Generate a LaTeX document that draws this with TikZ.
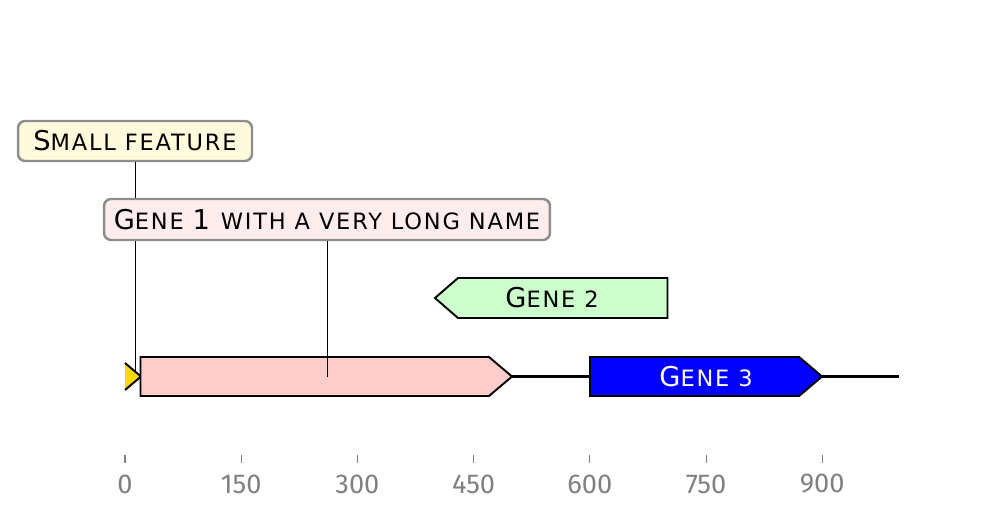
\documentclass[tikz,border=0pt]{standalone}
\usepackage{fontspec}
\setmainfont{DejaVu Sans}[LetterSpace=8]
\newfontfamily\tickfont{Fira Sans}
\usepackage{tikz}

\definecolor{pinkfeat}{HTML}{FFCCCC}
\definecolor{greenfeat}{HTML}{CCFFCC}
\definecolor{goldfeat}{HTML}{FFD700}
\definecolor{labyellow}{HTML}{FFFADC}
\definecolor{labpink}{HTML}{FFEDED}
\definecolor{tickgray}{HTML}{808080}

\newcommand{\capsz}{\fontsize{15.5}{18}\selectfont}
\newcommand{\smcsz}{\fontsize{12.8}{15}\selectfont}

\tikzset{
  feature/.style={draw=black, line width=1.1pt, line join=miter},
  labelbox/.style={draw=tickgray!90, line width=1.4pt, rounded corners=4pt,
    inner sep=0pt, minimum height=0.8cm},
  leader/.style={draw=black, line width=0.5pt},
  tick/.style={draw=tickgray, line width=0.6pt},
  ticklabel/.style={text=tickgray, font=\tickfont\fontsize{15.5}{18}\selectfont, inner sep=0pt}
}

\begin{document}
\begin{tikzpicture}[x=0.02cm, y=-0.02cm]
			\useasboundingbox (0,0) rectangle (1000,520);
			% backbone
			\draw[line width=1.7pt] (125,376.5) -- (899,376.5);
			% features
			\filldraw[feature, fill=goldfeat] (125,363) -- (141,376.5) -- (125,390);
			\filldraw[feature, fill=pinkfeat] (140.5,357) -- (489,357) -- (512,376.5) -- (489,396) -- (140.5,396) -- cycle;
			\filldraw[feature, fill=greenfeat] (667.5,278) -- (458,278) -- (435,298) -- (458,318) -- (667.5,318) -- cycle;
			\filldraw[feature, fill=blue] (590,357) -- (799,357) -- (822,376.5) -- (799,396) -- (590,396) -- cycle;
			\node (g2) at (552,298) {\capsz G\smcsz ENE 2};
			\node[text=white] (g3) at (706,377) {\capsz G\smcsz ENE 3};
			% labels and leader lines
			\coordinate (sfend) at (135,373);
			\coordinate (g1end) at (327,377);
			\node[labelbox, fill=labyellow, minimum width=4.68cm] (sflab) at (135,141)
				{\capsz S\smcsz MALL FEATURE};
			\draw[leader] (sflab.south) -- (sfend);
			\node[labelbox, fill=labpink, minimum width=8.92cm, minimum height=0.82cm] (g1lab) at (327,219.5)
				{\capsz G\smcsz ENE \capsz 1 \smcsz WITH A VERY LONG NAME};
			\draw[leader] (g1lab.south) -- (g1end);
			% axis
			\foreach \bp in {0,150,...,900}
			{
				\draw[tick] (125+0.7747*\bp,455) -- (125+0.7747*\bp,463);
				\node[ticklabel] at (125+0.7747*\bp,484) {\bp};
			}
		\end{tikzpicture}
\end{document}
